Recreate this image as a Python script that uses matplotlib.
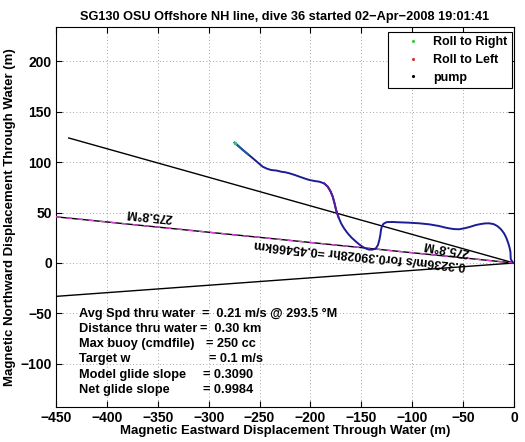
import numpy as np
import matplotlib
matplotlib.use("Agg")
import matplotlib.pyplot as plt
from matplotlib.lines import Line2D

plt.rcParams['font.family'] = ['Liberation Sans', 'DejaVu Sans']
plt.rcParams['font.weight'] = 'bold'

# trajectory (east, north) in metres
track_x = [-274.5, -270.5, -266.4, -261.5, -256.6, -251.5, -246.8, -242.5, -238.6, -233.0,
           -228.8, -224.5, -220.6, -215.5, -210.8, -206.0, -201.0, -196.0, -191.2, -186.5,
           -183.0, -180.3, -178.1, -176.3, -174.8, -172.5, -169.9, -166.8, -163.4, -159.5,
           -155.2, -151.8, -148.7, -145.5, -142.2, -138.8, -135.6, -133.6, -132.3, -131.3,
           -130.7, -129.8, -128.0, -125.0, -119.0, -112.7, -103.0, -93.1, -83.3, -73.5,
           -68.5, -63.7, -59.0, -54.0, -48.0, -42.5, -37.5, -32.6, -28.5, -24.5,
           -20.0, -16.4, -12.8, -9.8, -7.5, -5.6, -4.3, -3.5, -3.2, -1.5, 0.0]
track_y = [119.1, 115.6, 111.9, 107.8, 103.7, 99.3, 95.3, 93.3, 92.1, 91.5,
           90.4, 89.8, 88.8, 87.2, 85.5, 83.8, 82.2, 81.2, 80.5, 78.8,
           75.6, 71.0, 65.7, 59.0, 52.5, 45.5, 39.3, 34.0, 29.4, 25.0,
           21.1, 18.2, 16.0, 14.3, 13.2, 13.3, 14.6, 18.0, 22.8, 28.0,
           32.7, 36.5, 39.0, 40.5, 40.6, 40.3, 39.9, 39.3, 38.3, 36.6,
           35.3, 34.3, 33.6, 33.4, 34.5, 36.0, 37.6, 38.6, 39.2, 39.3,
           38.5, 36.6, 33.4, 29.4, 24.8, 19.5, 15.0, 11.0, 4.0, 1.0, 0.0]

heading = 275.8          # deg magnetic
dist_km = 0.45466
spd = 0.3236
hours = 0.39028
spread = 10.0            # deg either side

xticks = [-450, -400, -350, -300, -250, -200, -150, -100, -50, 0]
yticks = [-100, -50, 0, 50, 100, 150, 200]

info_labels = ["Avg Spd thru water", "Distance thru water", "Max buoy (cmdfile)",
               "Target w", "Model glide slope", "Net glide slope"]
info_values = ["=  0.21 m/s @ 293.5 \u00b0M", "=  0.30 km", "= 250 cc",
               "= 0.1 m/s", "= 0.3090", "= 0.9984"]
info_eq_px = [202, 200, 206, 209, 203, 203]

W, H = 525, 442
fig = plt.figure(figsize=(W/100, H/100), dpi=100)
L, R, T, B = 56, 514, 27, 407
ax = fig.add_axes([L/W, (H-B)/H, (R-L)/W, (B-T)/H])
ax.set_xlim(-450, 0)
ax.set_ylim(-142.6, 233.7)

def px2x(px):
    return -450 + (px - L) * 450.0 / (R - L)

# heading lines
d = dist_km * 1000
for hd in (heading + spread, heading - spread):
    r = np.deg2rad(hd)
    ax.plot([0, d*np.sin(r)], [0, d*np.cos(r)], color='black', lw=1.0, zorder=2)
r = np.deg2rad(heading)
ax.plot([0, d*np.sin(r)], [0, d*np.cos(r)], color='black', lw=1.0, zorder=2)
ax.plot([0, d*np.sin(r)], [0, d*np.cos(r)], color='#e040e0', lw=1.0,
        dashes=(4, 4), zorder=3)

# trajectory
ax.plot(track_x, track_y, color='#1c1c96', lw=1.4, zorder=4)
ax.plot(track_x[19:26], track_y[19:26], color='#5a1a9a', lw=1.4, zorder=5)
ax.plot(track_x[:4], track_y[:4], color='#1c5aa0', lw=1.4, zorder=5)
ax.plot(track_x[0], track_y[0], 'o', color='#40c080', ms=1.5, zorder=6)

# rotated labels
rot = 180 - (heading - 270)
ax.text(-335.3, 46.0, "275.8\u00b0M", rotation=rot, rotation_mode='anchor',
        ha='left', va='center', fontsize=9, fontweight='bold')
ax.text(-44.0, 10.5, "275.8\u00b0M", rotation=170, rotation_mode='anchor',
        ha='left', va='center', fontsize=9, fontweight='bold')
ax.text(-47.0, -2.0, f"{spd}m/s for{hours}hr ={dist_km}km", rotation=rot,
        rotation_mode='anchor', ha='left', va='center', fontsize=9, fontweight='bold')

# info block
y0 = -50.5
dy = -15.0
for i, (lab, val) in enumerate(zip(info_labels, info_values)):
    yy = y0 + i*dy
    ax.text(px2x(79), yy, lab, ha='left', va='center', fontsize=9.2, fontweight='bold')
    ax.text(px2x(info_eq_px[i]), yy, val, ha='left', va='center', fontsize=9.2,
            fontweight='bold')

ax.set_xticks(xticks)
ax.set_yticks(yticks)
ax.grid(True, linestyle=(0, (1, 3)), color='#888888', lw=0.6)
ax.tick_params(direction='in', top=True, right=True, length=4, width=0.8,
               labelsize=10, pad=3)
for lab in ax.get_xticklabels() + ax.get_yticklabels():
    lab.set_fontweight('bold')
for s in ax.spines.values():
    s.set_linewidth(0.8)

ax.set_xlabel("Magnetic Eastward Displacement Through Water (m)", fontsize=9.5,
              fontweight='bold', labelpad=0)
ax.set_ylabel("Magnetic Northward Displacement Through Water (m)", fontsize=9.5,
              fontweight='bold', labelpad=3)
ax.set_title("SG130 OSU Offshore NH line, dive 36 started 02\u2212Apr\u22122008 19:01:41",
             fontsize=9.2, fontweight='bold', pad=5)

handles = [Line2D([], [], ls='none', marker='.', ms=2.5, color='#30d030'),
           Line2D([], [], ls='none', marker='.', ms=2.5, color='#e03030'),
           Line2D([], [], ls='none', marker='.', ms=2.5, color='black')]
leg = ax.legend(handles, ["Roll to Right", "Roll to Left", "pump"], loc='upper right',
                bbox_to_anchor=((512 - L) / (R - L), (B - 32) / (B - T)),
                borderaxespad=0, fancybox=False, framealpha=1,
                edgecolor='black', prop={'weight': 'bold', 'size': 9},
                handlelength=3.2, handletextpad=0.05, borderpad=0.35,
                labelspacing=0.45)
leg.get_frame().set_linewidth(0.8)

fig.savefig("out.png", dpi=100)
